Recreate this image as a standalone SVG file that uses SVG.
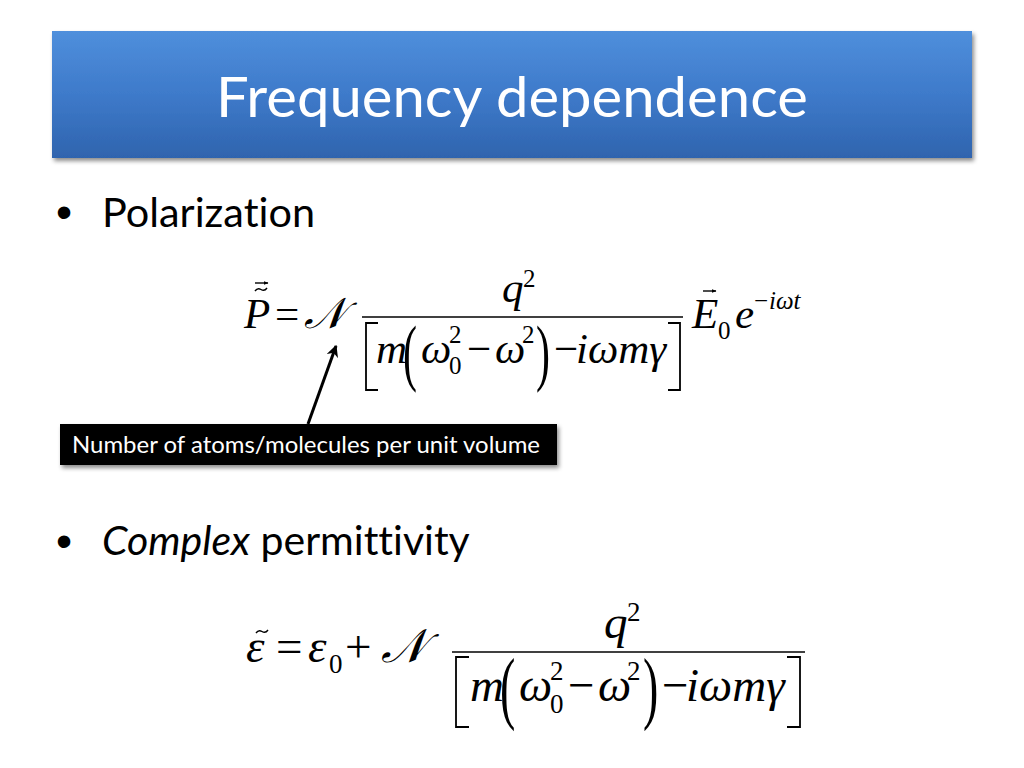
<svg xmlns="http://www.w3.org/2000/svg" width="1024" height="768" viewBox="0 0 1024 768">
<defs>
<linearGradient id="titleGrad" x1="0" y1="0" x2="0" y2="1">
<stop offset="0" stop-color="#4f8fdc"/>
<stop offset="0.5" stop-color="#3e7aca"/>
<stop offset="1" stop-color="#2f64ae"/>
</linearGradient>
<filter id="shadow" x="-5%" y="-10%" width="110%" height="130%">
<feDropShadow dx="2" dy="3" stdDeviation="2" flood-color="#000" flood-opacity="0.45"/>
</filter>
<marker id="arrowHead" viewBox="0 0 10 10" refX="9" refY="5" markerWidth="4" markerHeight="4" orient="auto">
<path d="M0,0 L10,5 L0,10 L3,5 z" fill="#000"/>
</marker>
<marker id="vecHead" viewBox="0 0 10 10" refX="9" refY="5" markerWidth="5" markerHeight="5" markerUnits="userSpaceOnUse" orient="auto">
<path d="M0,1 L10,5 L0,9 z" fill="#000"/>
</marker>
</defs>
<style>
text{font-variant-ligatures:none;font-feature-settings:"liga" 0,"clig" 0}
.title{font-family:Lato,"Liberation Sans",sans-serif;font-size:56px;fill:#fff}
.body{font-family:Lato,"Liberation Sans",sans-serif;font-size:41px;fill:#000}
.bullet{font-family:"Liberation Sans",sans-serif;font-size:46px;fill:#000}
.note{font-family:Lato,"Liberation Sans",sans-serif;font-size:23px;fill:#fff}
.mi{font-family:"Liberation Serif","DejaVu Serif",serif;font-style:italic;fill:#000}
.mn{font-family:"Liberation Serif","DejaVu Serif",serif;font-style:normal;fill:#000}
.cal{font-family:"DejaVu Serif","Liberation Serif","Noto Sans",serif;font-style:italic;fill:#000}
.e1{font-size:43px}
.e2{font-size:47px}
.s1{font-size:25px}
.s2{font-size:27px}
.p1{font-size:42px}
.p2{font-size:46px}
.delim{fill:none;stroke:#000;stroke-width:1.8}
.bar{stroke:#000;stroke-width:1.6}
.acc{fill:none;stroke:#000;stroke-width:1.4}
</style>
<rect width="1024" height="768" fill="#fff"/>

<g id="title">
<rect x="52" y="31" width="920" height="127" fill="url(#titleGrad)" filter="url(#shadow)"/>
<text class="title" x="512" y="117" text-anchor="middle" textLength="592" lengthAdjust="spacingAndGlyphs">Frequency dependence</text>
</g>

<g id="bullet-polarization">
<text class="bullet" x="56" y="228">•</text>
<text class="body" x="102" y="227" textLength="213" lengthAdjust="spacingAndGlyphs">Polarization</text>
</g>

<g id="equation-polarization">
<text class="mi e1" x="244" y="328">P</text>
<path class="acc" d="M255,291 q2.5,-3.5 6,-1.5 t6,-1.5"/>
<line class="acc" x1="255" y1="283" x2="268" y2="283" marker-end="url(#vecHead)"/>
<text class="mn e1" x="275" y="328">=</text>
<text class="cal e1" x="304" y="328">𝒩</text>
<line class="bar" x1="362" y1="317" x2="683" y2="317"/>
<text class="mi e1"><tspan x="502" y="302">q</tspan><tspan class="mn s1" x="523" y="287">2</tspan></text>
<path class="delim" d="M378,323 H366 V390 H378"/>
<text class="mn p1" transform="translate(403,377) scale(1,1.75)">(</text>
<text class="mn p1" transform="translate(536,377) scale(1,1.75)">)</text>
<text class="mi e1"><tspan x="376" y="363">m</tspan><tspan x="421" y="363">ω</tspan><tspan class="mn s1" x="449" y="343">2</tspan><tspan class="mn s1" x="449" y="374">0</tspan><tspan class="mn" x="467" y="363">−</tspan><tspan x="495" y="363">ω</tspan><tspan class="mn s1" x="522" y="343">2</tspan><tspan class="mn" x="554" y="363">−</tspan><tspan x="576" y="363">iωmγ</tspan></text>
<path class="delim" d="M668,323 H680 V390 H668"/>
<text class="mi e1"><tspan x="692" y="328">E</tspan><tspan class="mn s1" x="718" y="339">0</tspan></text>
<line class="acc" x1="703" y1="291" x2="716" y2="291" marker-end="url(#vecHead)"/>
<text class="mi e1"><tspan x="735" y="328">e</tspan><tspan class="mn s1" x="754" y="309">−</tspan><tspan class="s1" x="769" y="309">iωt</tspan></text>
</g>

<g id="callout">
<rect x="60" y="424" width="497" height="41" fill="#000" filter="url(#shadow)"/>
<text class="note" x="72" y="453" textLength="468" lengthAdjust="spacingAndGlyphs">Number of atoms/molecules per unit volume</text>
</g>

<g id="connectors">
<line x1="308" y1="424" x2="336" y2="346" stroke="#000" stroke-width="3" marker-end="url(#arrowHead)"/>
</g>

<g id="bullet-permittivity">
<text class="bullet" x="56" y="557">•</text>
<text class="body" x="102" y="555"><tspan font-style="italic">Complex</tspan> permittivity</text>
</g>

<g id="equation-permittivity">
<path class="acc" d="M256,633 q2.5,-3.5 6,-1.5 t6,-1.5"/>
<text class="mi e2"><tspan x="246" y="662">ε</tspan><tspan class="mn" x="276" y="662">=</tspan><tspan x="308" y="662">ε</tspan><tspan class="mn s2" x="329" y="673">0</tspan><tspan class="mn" x="345" y="662">+</tspan></text>
<text class="cal e2" x="381" y="662">𝒩</text>
<line class="bar" x1="452" y1="652" x2="805" y2="652"/>
<text class="mi e2"><tspan x="604" y="638">q</tspan><tspan class="mn s2" x="627" y="621">2</tspan></text>
<path class="delim" d="M469,657 H456 V727 H469"/>
<text class="mn p2" transform="translate(500,714) scale(1,1.75)">(</text>
<text class="mn p2" transform="translate(643,714) scale(1,1.75)">)</text>
<text class="mi e2"><tspan x="470" y="701">m</tspan><tspan x="519" y="701">ω</tspan><tspan class="mn s2" x="550" y="680">2</tspan><tspan class="mn s2" x="550" y="713">0</tspan><tspan class="mn" x="568" y="701">−</tspan><tspan x="598" y="701">ω</tspan><tspan class="mn s2" x="627" y="680">2</tspan><tspan class="mn" x="662" y="701">−</tspan><tspan x="686" y="701">iωmγ</tspan></text>
<path class="delim" d="M787,657 H800 V727 H787"/>
</g>
</svg>
